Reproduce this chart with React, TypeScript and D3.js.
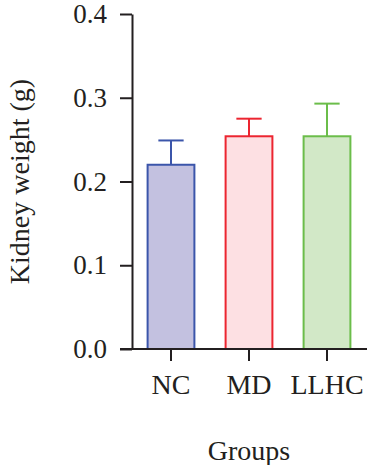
import React, { useEffect, useRef } from 'react';
import * as d3 from 'd3';

const groups = ['NC', 'MD', 'LLHC'];
const means = [0.22, 0.254, 0.254];
const errors = [0.029, 0.021, 0.039];
const yTicks = [0, 0.1, 0.2, 0.3, 0.4];

const fills = ['#c3c1e0', '#fde0e3', '#d2e8c7'];
const strokes = ['#3b55aa', '#ec2530', '#6bbd4a'];

const W = 367;
const H = 465;
const FONT = '"Liberation Serif", "DejaVu Serif", serif';

const App: React.FC = () => {
  const svgRef = useRef<SVGSVGElement>(null);

  useEffect(() => {
    if (!svgRef.current) return;
    const svg = d3.select(svgRef.current);
    svg.selectAll('*').remove();

    const x0 = 132;
    const x1 = 366;
    const yTop = 14;
    const yBottom = 349;
    const ink = '#231f20';

    const x = d3.scaleBand<string>()
      .domain(groups)
      .range([x0, x1])
      .paddingInner(0.4)
      .paddingOuter(0.2);

    const y = d3.scaleLinear().domain([0, 0.4]).range([yBottom, yTop]);

    const data = groups.map((g, i) => ({ g, mean: means[i], err: errors[i], i }));

    // bars
    svg.append('g')
      .selectAll('rect')
      .data(data)
      .enter()
      .append('rect')
      .attr('x', (d) => x(d.g)!)
      .attr('y', (d) => y(d.mean))
      .attr('width', x.bandwidth())
      .attr('height', (d) => y(0) - y(d.mean))
      .attr('fill', (d) => fills[d.i])
      .attr('stroke', (d) => strokes[d.i])
      .attr('stroke-width', 2);

    // error bars (upper only)
    const capHalf = x.bandwidth() * 0.27;
    const eb = svg.append('g').selectAll('g').data(data).enter().append('g');
    eb.append('line')
      .attr('x1', (d) => x(d.g)! + x.bandwidth() / 2)
      .attr('x2', (d) => x(d.g)! + x.bandwidth() / 2)
      .attr('y1', (d) => y(d.mean))
      .attr('y2', (d) => y(d.mean + d.err))
      .attr('stroke', (d) => strokes[d.i])
      .attr('stroke-width', 2);
    eb.append('line')
      .attr('x1', (d) => x(d.g)! + x.bandwidth() / 2 - capHalf)
      .attr('x2', (d) => x(d.g)! + x.bandwidth() / 2 + capHalf)
      .attr('y1', (d) => y(d.mean + d.err))
      .attr('y2', (d) => y(d.mean + d.err))
      .attr('stroke', (d) => strokes[d.i])
      .attr('stroke-width', 2);

    // y axis
    const yAxis = svg.append('g')
      .attr('transform', `translate(${x0},0)`)
      .call(
        d3.axisLeft(y)
          .tickValues(yTicks)
          .tickFormat(d3.format('.1f'))
          .tickSize(12)
          .tickSizeOuter(0)
          .tickPadding(13)
      );
    yAxis.select('.domain').attr('stroke', ink).attr('stroke-width', 2);
    yAxis.selectAll('.tick line').attr('stroke', ink).attr('stroke-width', 2);
    yAxis.selectAll('.tick text')
      .attr('fill', ink)
      .attr('font-family', FONT)
      .attr('font-size', 27);

    // x axis
    const xAxis = svg.append('g');
    xAxis.append('line')
      .attr('x1', x0 - 12)
      .attr('x2', W)
      .attr('y1', yBottom)
      .attr('y2', yBottom)
      .attr('stroke', ink)
      .attr('stroke-width', 2);
    const xt = xAxis.selectAll('g.xt').data(groups).enter().append('g')
      .attr('transform', (d) => `translate(${x(d)! + x.bandwidth() / 2},${yBottom})`);
    xt.append('line').attr('y2', 12).attr('stroke', ink).attr('stroke-width', 2);
    xt.append('text')
      .attr('y', 45)
      .attr('text-anchor', 'middle')
      .attr('fill', ink)
      .attr('font-family', FONT)
      .attr('font-size', 28)
      .text((d) => d);

    // axis titles
    svg.append('text')
      .attr('x', (x0 + x1) / 2)
      .attr('y', 460)
      .attr('text-anchor', 'middle')
      .attr('fill', ink)
      .attr('font-family', FONT)
      .attr('font-size', 28)
      .text('Groups');

    svg.append('text')
      .attr('transform', `translate(29,${(yTop + yBottom) / 2}) rotate(-90)`)
      .attr('text-anchor', 'middle')
      .attr('fill', ink)
      .attr('font-family', FONT)
      .attr('font-size', 28)
      .text('Kidney weight (g)');
  }, []);

  return (
    <svg
      ref={svgRef}
      width={W}
      height={H}
      style={{ position: 'absolute', left: 0, top: 0, background: '#fff' }}
    />
  );
};

export default App;
